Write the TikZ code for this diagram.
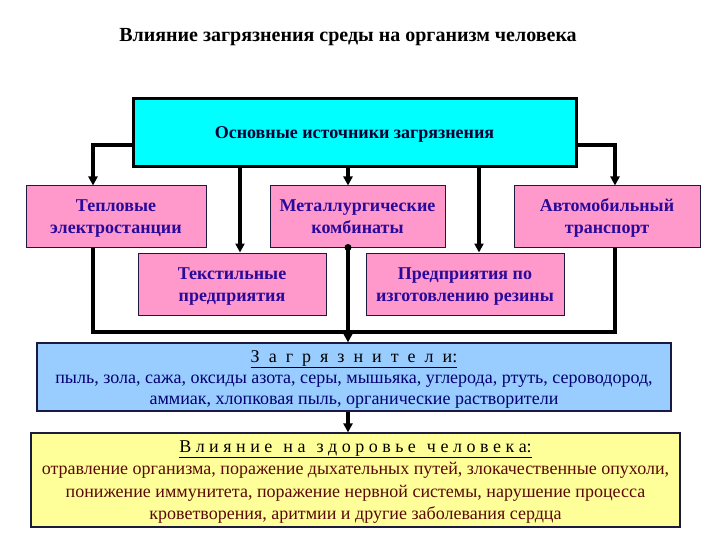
\documentclass[tikz,border=0pt]{standalone}
\usepackage{fontspec}
\setmainfont{Liberation Serif}
\usetikzlibrary{arrows.meta,calc}
\definecolor{cyanbox}{HTML}{00FFFF}
\definecolor{pinkbox}{HTML}{FF99CC}
\definecolor{bluebox}{HTML}{99CCFF}
\definecolor{yelbox}{HTML}{FFFF99}
\definecolor{pinktext}{HTML}{2A0A99}
\definecolor{cyantext}{HTML}{000033}
\definecolor{bluetext}{HTML}{000070}
\definecolor{yeltext}{HTML}{5A0808}
\definecolor{boxline}{HTML}{1A1A40}
\newcommand\lgap{\hspace{4.5pt}}
\newcommand\wgap{\hspace{11pt}}
\newcommand\bgap{\hspace{9pt}}
\newcommand\topstr{\rule{0pt}{18pt}}
\newcommand\botstr{\rule[-6pt]{0pt}{0pt}}
\begin{document}
\begin{tikzpicture}[x=1pt,y=-1pt,
  pinkb/.style={draw=boxline,line width=1pt,fill=pinkbox,text=pinktext,align=center,
    font=\fontsize{18}{22}\selectfont\bfseries,inner sep=0pt},
  conn/.style={line width=3.2pt,draw=black},
  arr/.style={conn,-{Triangle[length=9pt,width=9pt]}},
]
\useasboundingbox (0,0) rectangle (720,540);
\fill[white] (0,0) rectangle (720,540);

\node[font=\fontsize{20}{24}\selectfont\bfseries] (title) at (348,37) {Влияние загрязнения среды на организм человека};

\node[draw=black,line width=3pt,fill=cyanbox,text=cyantext,minimum width=443pt,minimum height=68pt,inner sep=0pt,
  font=\fontsize{18}{22}\selectfont\bfseries] (src) at (354.5,133) {\topstr Основные источники загрязнения\botstr};

\node[pinkb,minimum width=180pt,minimum height=61pt] (tes) at (116,216.5) {\topstr Тепловые\\электростанции\botstr};
\node[pinkb,minimum width=175pt,minimum height=61pt] (met) at (357.5,216.5) {\topstr Металлургические\\комбинаты\botstr};
\node[pinkb,minimum width=186pt,minimum height=61pt] (auto) at (607,216.5) {\topstr Автомобильный\\транспорт\botstr};
\node[pinkb,minimum width=188pt,minimum height=62pt] (tex) at (232,284) {\topstr Текстильные\\предприятия\botstr};
\node[pinkb,minimum width=198pt,minimum height=62pt] (rez) at (465,284) {\topstr Предприятия по\\изготовлению резины\botstr};

\node[draw=boxline,line width=1.2pt,fill=bluebox,text=bluetext,minimum width=634pt,minimum height=68pt,inner sep=0pt,
  align=center,font=\fontsize{18}{21}\selectfont] (zag) at (354,377)
  {\topstr{\color{black}\underline{З\bgap а\bgap г\bgap р\bgap я\bgap з\bgap н\bgap и\bgap т\bgap е\bgap л\bgap и:}}\\
   пыль, зола, сажа, оксиды азота, серы, мышьяка, углерода, ртуть, сероводород,\\
   аммиак, хлопковая пыль, органические растворители\botstr};

\node[draw=boxline,line width=1.2pt,fill=yelbox,text=yeltext,minimum width=649pt,minimum height=94pt,inner sep=0pt,
  align=center,font=\fontsize{18}{22.5}\selectfont] (vl) at (355.5,480)
  {\topstr{\color{black}\underline{В\lgap л\lgap и\lgap я\lgap н\lgap и\lgap е\wgap н\lgap а\wgap з\lgap д\lgap о\lgap р\lgap о\lgap в\lgap ь\lgap е\wgap ч\lgap е\lgap л\lgap о\lgap в\lgap е\lgap к\lgap а:}}\\
   отравление организма, поражение дыхательных путей, злокачественные опухоли,\\
   понижение иммунитета, поражение нервной системы, нарушение процесса\\
   кроветворения, аритмии и другие заболевания сердца\botstr};

\coordinate (xL) at (93,332);
\coordinate (xT) at (240,332);
\coordinate (xM) at (348,332);
\coordinate (xR2) at (479,332);
\coordinate (xR) at (615,332);
\coordinate (hy) at (0,145);

% top connectors
\draw[arr] (src.west |- hy) -| (tes.north -| xL);
\draw[arr] (src.east |- hy) -| (auto.north -| xR);
\draw[arr] (src.south -| xT) -- (tex.north -| xT);
\draw[arr] (src.south -| xM) -- (met.north -| xM);
\draw[arr] (src.south -| xR2) -- (rez.north -| xR2);

% bottom collector
\draw[conn,line join=miter] (tes.south -| xL) -- (xL) -- (xR) -- (auto.south -| xR);
\draw[conn] (met.south -| xM) -- (xM);
\fill (met.south -| xM) circle (3.5pt);
\draw[arr] (xM) -- (zag.north -| xM);
\draw[arr] (zag.south -| xM) -- (vl.north -| xM);
\end{tikzpicture}
\end{document}
